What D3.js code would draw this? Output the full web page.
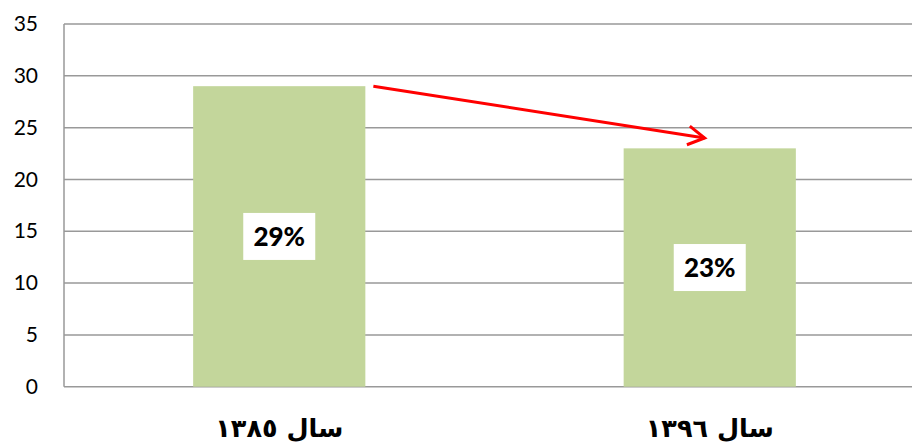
<!DOCTYPE html>
<html><head><meta charset="utf-8">
<script src="https://cdn.jsdelivr.net/npm/d3@7"></script>
<style>body{margin:0;background:#fff}svg{display:block}</style>
</head><body>
<svg id="c" width="912" height="445"></svg>
<script>
const categories = ["سال ١٣٨٥", "سال ١٣٩٦"];
const values = [29, 23];
const valueLabels = ["29%", "23%"];
const yTicks = [0, 5, 10, 15, 20, 25, 30, 35];
const trendFrom = 29, trendTo = 24;

const svg = d3.select("#c");
const m = {left: 64, top: 24, right: 925, bottom: 386.7};
const x = d3.scaleBand().domain(categories).range([m.left, m.right]).paddingInner(0.6).paddingOuter(0.3);
const y = d3.scaleLinear().domain([0, 35]).range([m.bottom, m.top]);

// gridlines
svg.append("g").selectAll("line").data(yTicks).join("line")
  .attr("x1", m.left).attr("x2", m.right)
  .attr("y1", d => y(d)).attr("y2", d => y(d))
  .attr("stroke", "#999").attr("stroke-width", 1.5);
// y axis line
svg.append("line").attr("x1", m.left).attr("x2", m.left).attr("y1", y(35)).attr("y2", y(0))
  .attr("stroke", "#999").attr("stroke-width", 1.5);

// y tick labels
const yAxis = d3.axisLeft(y).tickValues(yTicks).tickSize(0).tickPadding(26);
const ga = svg.append("g").attr("transform", `translate(${m.left},0)`).call(yAxis);
ga.select(".domain").remove();
ga.selectAll("text").attr("font-family", "Lato, 'Open Sans', sans-serif").attr("font-size", 21).attr("fill", "#000");

// bars
svg.append("g").selectAll("rect").data(values).join("rect")
  .attr("x", (d, i) => x(categories[i])).attr("width", x.bandwidth())
  .attr("y", d => y(d)).attr("height", d => y(0) - y(d))
  .attr("fill", "#c3d69b");

// value label boxes
const lg = svg.append("g").selectAll("g").data(values).join("g")
  .attr("transform", (d, i) => `translate(${x(categories[i]) + x.bandwidth() / 2},${y(d / 2)})`);
lg.append("rect").attr("x", -36).attr("y", -23.5).attr("width", 72).attr("height", 47).attr("fill", "#fff");
lg.append("text").text((d, i) => valueLabels[i]).attr("text-anchor", "middle").attr("dy", "0.36em")
  .attr("font-family", "Lato, 'Open Sans', sans-serif").attr("font-weight", "900").attr("font-size", 26).attr("fill", "#000");

// category labels
svg.append("g").selectAll("text").data(categories).join("text")
  .attr("x", d => x(d) + x.bandwidth() / 2).attr("y", 437)
  .attr("text-anchor", "middle").attr("direction", "rtl")
  .attr("font-family", "'DejaVu Sans', sans-serif").attr("font-weight", "bold").attr("font-size", 25.5)
  .style("direction", "rtl").style("unicode-bidi", "plaintext")
  .text(d => d);

// trend arrow
const x0 = x(categories[0]) + x.bandwidth() + 8;
const x1 = x(categories[1]) + 81;
const ya = y(trendFrom), yb = y(trendTo);
svg.append("line").attr("x1", x0).attr("y1", ya).attr("x2", x1).attr("y2", yb)
  .attr("stroke", "#ff0000").attr("stroke-width", 3);
const ang = Math.atan2(yb - ya, x1 - x0);
const L = 19, sp = 0.52;
const p1 = [x1 - L * Math.cos(ang - sp), yb - L * Math.sin(ang - sp)];
const p2 = [x1 - L * Math.cos(ang + sp), yb - L * Math.sin(ang + sp)];
svg.append("path").attr("d", `M${p1[0]},${p1[1]}L${x1},${yb}L${p2[0]},${p2[1]}`)
  .attr("fill", "none").attr("stroke", "#ff0000").attr("stroke-width", 3);
</script>
</body></html>
